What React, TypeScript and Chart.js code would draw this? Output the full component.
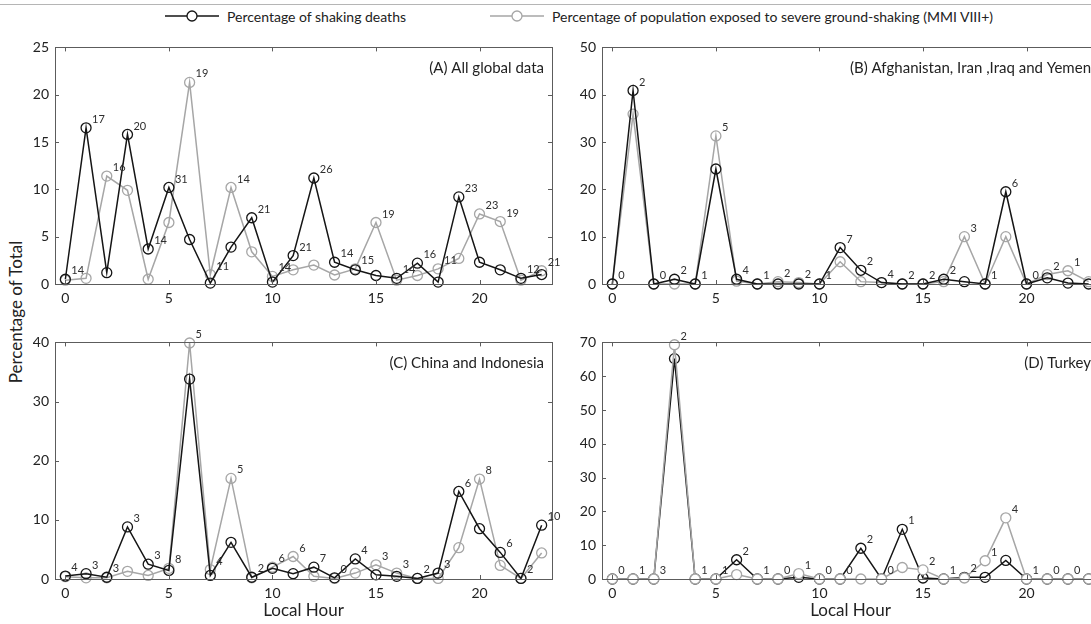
import React, { useEffect, useRef } from 'react';
import { Chart, registerables } from 'chart.js';

Chart.register(...registerables);

// ---------- data ----------
const HOURS = [0, 1, 2, 3, 4, 5, 6, 7, 8, 9, 10, 11, 12, 13, 14, 15, 16, 17, 18, 19, 20, 21, 22, 23];
const X_TICKS = [0, 5, 10, 15, 20];

const A_DEATHS = [0.5, 16.5, 1.2, 15.8, 3.7, 10.2, 4.7, 0.1, 3.9, 7.0, 0.2, 3.0, 11.2, 2.3, 1.5, 0.9, 0.6, 2.2, 0.2, 9.2, 2.3, 1.5, 0.6, 1.0];
const A_POP = [0.4, 0.6, 11.4, 9.9, 0.5, 6.5, 21.3, 1.0, 10.2, 3.4, 0.8, 1.5, 2.0, 0.95, 1.6, 6.5, 0.4, 0.9, 1.6, 2.7, 7.4, 6.6, 0.4, 1.4];
const A_COUNTS = ['14', '17', '16', '20', '14', '31', '19', '11', '14', '21', '14', '21', '26', '14', '15', '19', '14', '16', '11', '23', '23', '19', '12', '21'];
const A_TICKS = [0, 5, 10, 15, 20, 25];

const B_DEATHS = [0, 40.9, 0, 1.0, 0, 24.3, 1.0, 0, 0, 0, 0, 7.7, 2.9, 0.3, 0, 0, 1.0, 0.5, 0, 19.5, 0, 1.3, 0.2, 0];
const B_POP = [0, 35.9, 0, 0, 0, 31.3, 0.6, 0, 0.5, 0.3, 0, 4.7, 0.5, 0.3, 0, 0, 0.5, 10.0, 0, 10.0, 0, 2.0, 2.8, 0.5];
const B_COUNTS = ['0', '2', '0', '2', '1', '5', '4', '1', '2', '2', '1', '7', '2', '4', '2', '2', '2', '3', '1', '6', '0', '2', '1', '1'];
const B_TICKS = [0, 10, 20, 30, 40, 50];

const C_DEATHS = [0.5, 0.9, 0.3, 8.8, 2.5, 1.45, 33.8, 0.6, 6.2, 0.3, 1.8, 0.9, 2.0, 0.2, 3.4, 0.7, 0.45, 0.1, 1.0, 14.8, 8.5, 4.5, 0.1, 9.1];
const C_POP = [0.4, 0.2, 0.2, 1.3, 0.6, 1.8, 39.9, 1.6, 17.0, 0.2, 2.0, 3.8, 0.45, 0.1, 1.0, 2.4, 1.0, 0.1, 0.1, 5.3, 16.9, 2.3, 0.1, 4.4];
const C_COUNTS = ['4', '3', '3', '3', '3', '8', '5', '4', '5', '2', '6', '6', '7', '0', '4', '3', '3', '2', '3', '6', '8', '6', '2', '10'];
const C_TICKS = [0, 10, 20, 30, 40];

const D_DEATHS = [0, 0, 0, 65.2, 0, 0, 5.7, 0, 0, 0.5, 0, 0, 9.1, 0, 14.7, 0.3, 0, 0.5, 0.5, 5.5, 0, 0, 0, 0];
const D_POP = [0, 0, 0, 69.3, 0, 0, 1.3, 0, 0, 1.6, 0, 0, 0, 0, 3.4, 2.7, 0, 0.3, 5.4, 18.1, 0, 0, 0, 0];
const D_COUNTS = ['0', '1', '3', '2', '1', '1', '2', '1', '0', '1', '0', '0', '2', '0', '1', '2', '1', '2', '1', '4', '1', '0', '0', '0'];
const D_TICKS = [0, 10, 20, 30, 40, 50, 60, 70];

const SERIES_NAMES = ['Percentage of shaking deaths', 'Percentage of population exposed to severe ground-shaking (MMI VIII+)'];

// ---------- styling ----------
const FONT = 'Lato, "Open Sans", sans-serif';
const BLACK = '#151515';
const GRAY = '#a6a6a6';
const FRAME_W = 497;
const FRAME_H = 237;
const YW = 50;
const PADT = 14;
const PADR = 24;

const panelDeco = {
  id: 'panelDeco',
  afterDraw(chart: any, _args: any, opts: any) {
    const { ctx, chartArea: a } = chart;
    const x = chart.scales.x;
    const y = chart.scales.y;
    ctx.save();
    ctx.strokeStyle = '#5c5c5c';
    ctx.lineWidth = 1;
    ctx.strokeRect(Math.round(a.left) + 0.5, Math.round(a.top) + 0.5, Math.round(a.width), Math.round(a.height));
    const tl = 4;
    ctx.beginPath();
    for (const v of X_TICKS) {
      const px = Math.round(x.getPixelForValue(v)) + 0.5;
      ctx.moveTo(px, a.top);
      ctx.lineTo(px, a.top + tl);
      ctx.moveTo(px, a.bottom);
      ctx.lineTo(px, a.bottom - tl);
    }
    for (const v of opts.yTicks) {
      const py = Math.round(y.getPixelForValue(v)) + 0.5;
      ctx.moveTo(a.left, py);
      ctx.lineTo(a.left + tl, py);
      ctx.moveTo(a.right, py);
      ctx.lineTo(a.right - tl, py);
    }
    ctx.stroke();

    ctx.font = `15px ${FONT}`;
    ctx.fillStyle = '#222';
    ctx.textAlign = 'right';
    ctx.textBaseline = 'middle';
    ctx.fillText(opts.title, a.right - 8, a.top + 21);

    ctx.font = `11px ${FONT}`;
    ctx.fillStyle = '#2e2e2e';
    ctx.textAlign = 'left';
    ctx.textBaseline = 'bottom';
    const d0 = chart.data.datasets[0].data;
    const d1 = chart.data.datasets[1].data;
    opts.counts.forEach((c: string, i: number) => {
      const v = Math.max(d0[i].y, d1[i].y);
      ctx.fillText(c, x.getPixelForValue(d0[i].x) + 6, y.getPixelForValue(v) - 3);
    });

    if (opts.xTitle) {
      ctx.font = `17px ${FONT}`;
      ctx.fillStyle = '#222';
      ctx.textAlign = 'center';
      ctx.textBaseline = 'middle';
      ctx.fillText(opts.xTitle, (a.left + a.right) / 2, a.bottom + 32);
    }
    ctx.restore();
  },
};

type PanelProps = {
  frameLeft: number;
  frameTop: number;
  title: string;
  deaths: number[];
  pop: number[];
  counts: string[];
  yTicks: number[];
  xTitle?: string;
  grayOnTop?: boolean;
};

function Panel(p: PanelProps) {
  const ref = useRef<HTMLCanvasElement>(null);
  const xh = p.xTitle ? 45 : 30;
  const cw = YW + FRAME_W + PADR;
  const ch = PADT + FRAME_H + xh;

  useEffect(() => {
    if (!ref.current) return;
    const mk = (vals: number[]) => HOURS.map((h, i) => ({ x: h, y: vals[i] }));
    const chart = new Chart(ref.current, {
      type: 'line',
      data: {
        datasets: [
          {
            label: SERIES_NAMES[0],
            data: mk(p.deaths),
            borderColor: BLACK,
            borderWidth: 1.5,
            pointRadius: 5,
            pointBorderWidth: 1.3,
            pointBorderColor: BLACK,
            pointBackgroundColor: 'rgba(0,0,0,0)',
            tension: 0,
            clip: false,
            order: p.grayOnTop ? 1 : 0,
          } as any,
          {
            label: SERIES_NAMES[1],
            data: mk(p.pop),
            borderColor: GRAY,
            borderWidth: 1.5,
            pointRadius: 5,
            pointBorderWidth: 1.3,
            pointBorderColor: GRAY,
            pointBackgroundColor: p.grayOnTop ? '#ffffff' : 'rgba(0,0,0,0)',
            tension: 0,
            clip: false,
            order: p.grayOnTop ? 0 : 1,
          } as any,
        ],
      },
      options: {
        animation: false,
        responsive: false,
        devicePixelRatio: 1,
        layout: { padding: { top: PADT, right: PADR, left: 0, bottom: 0 } },
        plugins: {
          legend: { display: false },
          tooltip: { enabled: false },
          panelDeco: { title: p.title, counts: p.counts, yTicks: p.yTicks, xTitle: p.xTitle },
        } as any,
        scales: {
          x: {
            type: 'linear',
            min: -0.5,
            max: 23.5,
            grid: { display: false, drawTicks: false },
            border: { display: false },
            ticks: { padding: 6, color: '#222', font: { size: 14, family: FONT } },
            afterBuildTicks: (axis: any) => {
              axis.ticks = X_TICKS.map((v) => ({ value: v }));
            },
            afterFit: (s: any) => {
              s.height = xh;
            },
          },
          y: {
            type: 'linear',
            min: 0,
            max: p.yTicks[p.yTicks.length - 1],
            grid: { display: false, drawTicks: false },
            border: { display: false },
            ticks: { padding: 6, color: '#222', font: { size: 14, family: FONT } },
            afterBuildTicks: (axis: any) => {
              axis.ticks = p.yTicks.map((v) => ({ value: v }));
            },
            afterFit: (s: any) => {
              s.width = YW;
            },
          },
        } as any,
      },
      plugins: [panelDeco as any],
    });
    return () => chart.destroy();
  }, []);

  return (
    <canvas
      ref={ref}
      width={cw}
      height={ch}
      style={{ position: 'absolute', left: p.frameLeft - YW, top: p.frameTop - PADT, width: cw, height: ch }}
    />
  );
}

function LegendItem({ color, text, left }: { color: string; text: string; left: number }) {
  return (
    <div style={{ position: 'absolute', left, top: 6, height: 20, display: 'flex', alignItems: 'center', whiteSpace: 'nowrap' }}>
      <svg width={54} height={20} style={{ display: 'block' }}>
        <line x1={0} y1={10} x2={54} y2={10} stroke={color} strokeWidth={1.5} />
        <circle cx={27} cy={10} r={5} fill="white" stroke={color} strokeWidth={1.3} />
      </svg>
      <span style={{ marginLeft: 8, fontFamily: FONT, fontSize: 14, color: '#222' }}>{text}</span>
    </div>
  );
}

export default function App() {
  return (
    <div style={{ position: 'fixed', left: 0, top: 0, width: 1091, height: 624, overflow: 'hidden', background: '#fff' }}>
      <div style={{ position: 'absolute', left: 0, top: 4, width: 1091, height: 1, background: '#b5b5b5' }} />
      <LegendItem color={BLACK} text={SERIES_NAMES[0]} left={165} />
      <LegendItem color={GRAY} text={SERIES_NAMES[1]} left={490} />
      <div
        style={{
          position: 'absolute',
          left: 15,
          top: 312,
          transform: 'translate(-50%, -50%) rotate(-90deg)',
          fontFamily: FONT,
          fontSize: 17,
          color: '#222',
          whiteSpace: 'nowrap',
        }}
      >
        Percentage of Total
      </div>
      <Panel frameLeft={55} frameTop={47} title="(A) All global data" deaths={A_DEATHS} pop={A_POP} counts={A_COUNTS} yTicks={A_TICKS} />
      <Panel frameLeft={602} frameTop={47} title="(B) Afghanistan, Iran ,Iraq and Yemen" deaths={B_DEATHS} pop={B_POP} counts={B_COUNTS} yTicks={B_TICKS} />
      <Panel frameLeft={55} frameTop={342} title="(C) China and Indonesia" deaths={C_DEATHS} pop={C_POP} counts={C_COUNTS} yTicks={C_TICKS} xTitle="Local Hour" />
      <Panel frameLeft={602} frameTop={342} title="(D) Turkey" deaths={D_DEATHS} pop={D_POP} counts={D_COUNTS} yTicks={D_TICKS} xTitle="Local Hour" grayOnTop />
    </div>
  );
}
